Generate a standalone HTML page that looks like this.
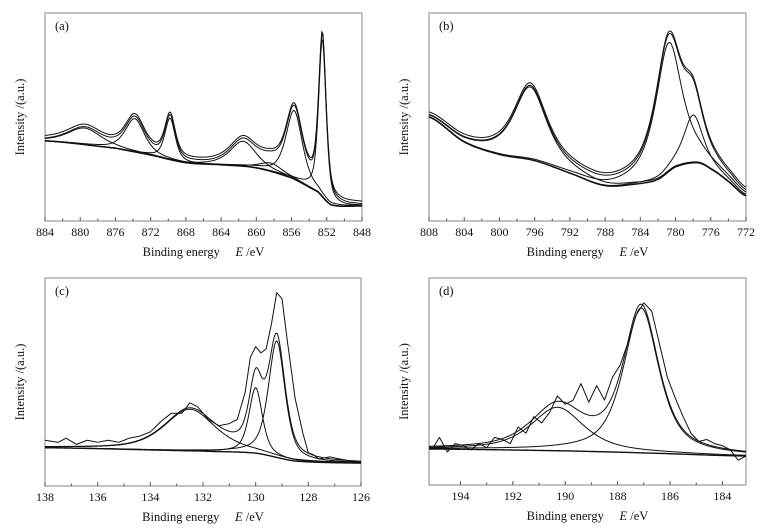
<!DOCTYPE html>
<html><head><meta charset="utf-8">
<style>
body{margin:0;background:#fff;}
svg{display:block;font-family:"Liberation Serif",serif;}
</style></head>
<body>
<svg id="chart" width="761" height="532" viewBox="0 0 761 532"></svg>
<script>
// Panel (a) Ni 2p
const aTicks=[884,880,876,872,868,864,860,856,852,848];
const aBgX=[884,876,872,868,864,860,856,853,851.5,848];
const aBgY=[38.5,35,31.7,28,27,25.5,20.7,14,7.7,7.2];
const aPeakC=[852.5,855.7,858.3,861.5,869.8,873.8,879.5];
const aPeakH=[76,33,4,12,20,16,8];
const aPeakW=[1.0,2.2,3.0,3.5,1.4,2.6,4.5];
// Panel (b) Co 2p
const bTicks=[808,804,800,796,792,788,784,780,776,772];
const bBgX=[808,804,800,796,792,788,784,782,780,777.5,776,774,772];
const bBgY=[50,38,32,29,23,17,18,20,26,28,25,19,12];
const bPeakC=[796.5,780.8,778.0];
const bPeakH=[35,62,23];
const bPeakW=[4.5,3.6,2.6];
// Panel (c) P 2p
const cTicks=[138,136,134,132,130,128,126];
const cBgX=[138,132,130,128.5,126];
const cBgY=[18.4,16.8,15.8,12,11];
const cPeakC=[129.2,130.0,132.5];
const cPeakH=[56,31.5,20];
const cPeakW=[0.75,0.6,2.3];
const cRawX=[138,137.5,137.2,136.8,136.4,136,135.6,135.2,134.8,134.4,134,133.6,133.2,132.8,132.5,132.2,131.8,131.4,131,130.7,130.4,130.2,130,129.8,129.6,129.4,129.2,129,128.8,128.5,128.2,128,127.8,127.6,127.2,126.8,126.4,126.1];
const cRawY=[22,21,23,20,22,21,22,21,23,24,26,31,35,35,40,38,32,29,30,32,45,62,67,64,66,78,93,90,70,42,25,16,15,13,14,13,12,12];
// Panel (d) B 1s
const dTicks=[194,192,190,188,186,184];
const dBgX=[195.2,190,187,183.1];
const dBgY=[17.4,16.5,15.5,14];
const dPeakC=[187.1,190.3];
const dPeakH=[70,21];
const dPeakW=[1.6,2.4];
const dRawX=[195.1,194.8,194.5,194.2,193.9,193.6,193.3,193.0,192.7,192.4,192.1,191.8,191.5,191.2,190.9,190.6,190.3,190.0,189.7,189.4,189.1,188.8,188.5,188.2,187.9,187.6,187.3,187.0,186.7,186.4,186.1,185.8,185.5,185.2,184.9,184.6,184.3,184.0,183.7,183.4,183.1];
const dRawY=[17,23,16,20,19,17,20,18,23,22,20,28,25,33,30,35,43,39,41,49,40,48,41,52,58,69,82,88,84,68,52,42,33,25,21,22,20,19,17,12,14];

const NS="http://www.w3.org/2000/svg";
const svg=document.getElementById('chart');
function mk(tag,attrs,parent){const e=document.createElementNS(NS,tag);for(const k in attrs)e.setAttribute(k,attrs[k]);(parent||svg).appendChild(e);return e;}
function interp(xs,ys,x){
  const n=xs.length;
  for(let i=0;i<n-1;i++){const a=xs[i],b=xs[i+1];
    if((x<=a&&x>=b)||(x>=a&&x<=b)){const t=(x-a)/(b-a);
      const p0=ys[Math.max(0,i-1)],p1=ys[i],p2=ys[i+1],p3=ys[Math.min(n-1,i+2)];
      const t2=t*t,t3=t2*t;
      return 0.5*((2*p1)+(-p0+p2)*t+(2*p0-5*p1+4*p2-p3)*t2+(-p0+3*p1-3*p2+p3)*t3);}}
  return Math.abs(x-xs[0])<Math.abs(x-xs[n-1])?ys[0]:ys[n-1];
}
function pv(x,c,h,w,eta){const d=(x-c)/(w/2);const L=1/(1+d*d);const G=Math.exp(-Math.LN2*d*d);return h*(eta*L+(1-eta)*G);}

function panel(p){
  const g=mk('g',{});
  
  
  const X=v=>p.x0+(p.xmax-v)/(p.xmax-p.xmin)*(p.x1-p.x0);
  const Y=v=>p.y1-v/100*(p.y1-p.y0);
  const fr=mk('rect',{x:p.x0,y:p.y0,width:p.x1-p.x0,height:p.y1-p.y0,fill:'none',stroke:'#9a9a9a','stroke-width':1.2},g);
  
  p.ticks.forEach((t,i)=>{
    const tx=X(t);
    mk('line',{x1:tx,x2:tx,y1:p.y1,y2:p.y1-4,stroke:'#555','stroke-width':1},g);
    const lb=mk('text',{x:tx,y:p.y1+15,'text-anchor':'middle','font-size':12,fill:'#111'},g);
    lb.textContent=t;
    
    
    if(i<p.ticks.length-1){const m=X((t+p.ticks[i+1])/2);mk('line',{x1:m,x2:m,y1:p.y1,y2:p.y1-2.5,stroke:'#555','stroke-width':1},g);}
  });
  const xt=mk('text',{x:(p.x0+p.x1)/2,y:p.y1+35,'text-anchor':'middle','font-size':12.5,fill:'#111'},g);
  xt.innerHTML='Binding energy&#160;&#160;&#160;&#160;&#160;<tspan font-style="italic">E</tspan> /eV';
  
  
  const yt=mk('text',{x:0,y:0,transform:`translate(${p.x0-21},${(p.y0+p.y1)/2}) rotate(-90)`,'text-anchor':'middle','font-size':12.5,fill:'#111'},g);
  yt.textContent='Intensity /(a.u.)';
  
  
  const pl=mk('text',{x:p.x0+10,y:p.y0+17,'font-size':12.5,fill:'#111'},g);
  pl.textContent='('+p.id+')';
  
  
  const N=300;const xsS=[];for(let i=0;i<=N;i++)xsS.push(p.xmax-(p.xmax-p.xmin)*i/N);
  const bg=x=>interp(p.bgX,p.bgY,x);
  const line=(fn,name,sw)=>{let d='';xsS.forEach((x,i)=>{d+=(i?'L':'M')+X(x).toFixed(2)+','+Y(fn(x)).toFixed(2);});
    const e=mk('path',{d,fill:'none',stroke:'#111','stroke-width':sw||1},g);
    
    };
  line(bg,'background-line',1.4);
  p.pc.forEach((c,k)=>line(x=>bg(x)+pv(x,c,p.ph[k],p.pw[k],p.eta),'fit-component-'+c,1));
  const env=x=>{let s=bg(x);p.pc.forEach((c,k)=>s+=pv(x,c,p.ph[k],p.pw[k],p.eta));return s;};
  line(env,'fit-envelope',1);
  if(p.rx){let d='';p.rx.forEach((x,i)=>{d+=(i?'L':'M')+X(x).toFixed(2)+','+Y(p.ry[i]).toFixed(2);});
    const e=mk('path',{d,fill:'none',stroke:'#111','stroke-width':1,'stroke-linejoin':'round'},g);
    
    }
  else {line(x=>env(x)+1.2,'raw-spectrum',1);}
}
panel({id:'a',x0:45,x1:362,y0:13,y1:221,xmax:884,xmin:848,ticks:aTicks,bgX:aBgX,bgY:aBgY,pc:aPeakC,ph:aPeakH,pw:aPeakW,eta:0.6});
panel({id:'b',x0:429,x1:746,y0:13,y1:221,xmax:808,xmin:772,ticks:bTicks,bgX:bBgX,bgY:bBgY,pc:bPeakC,ph:bPeakH,pw:bPeakW,eta:0.8});
panel({id:'c',x0:45,x1:361,y0:278,y1:486,xmax:138,xmin:126,ticks:cTicks,bgX:cBgX,bgY:cBgY,pc:cPeakC,ph:cPeakH,pw:cPeakW,eta:0.6,rx:cRawX,ry:cRawY});
panel({id:'d',x0:429,x1:746,y0:278,y1:485,xmax:195.2,xmin:183.1,ticks:dTicks,bgX:dBgX,bgY:dBgY,pc:dPeakC,ph:dPeakH,pw:dPeakW,eta:0.7,rx:dRawX,ry:dRawY});
</script>
</body></html>
